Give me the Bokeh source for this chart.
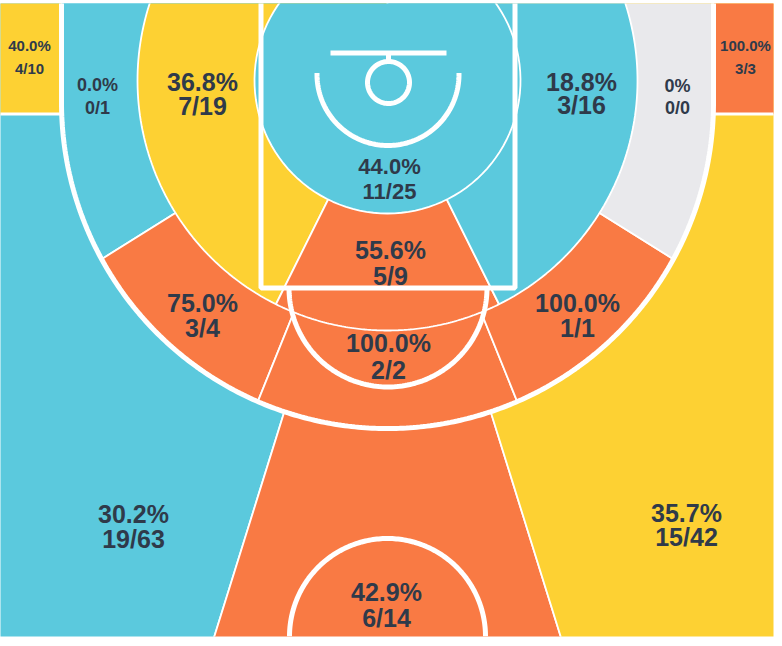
import numpy as np
from bokeh.plotting import figure
from bokeh.models import Range1d, ColumnDataSource
from bokeh.core.properties import value
from bokeh.embed import file_html
from bokeh.resources import INLINE

# ---------------- data ----------------
zones = ["Left Corner 3", "Left Baseline Mid", "Left Short Mid", "Restricted Area",
         "Paint", "Right Short Mid", "Right Baseline Mid", "Right Corner 3",
         "Left Wing Mid", "Top Mid", "Right Wing Mid",
         "Left Wing 3", "Top 3", "Right Wing 3"]
made = [4, 0, 7, 11, 5, 3, 0, 3, 3, 2, 1, 19, 6, 15]
attempts = [10, 1, 19, 25, 9, 16, 0, 3, 4, 2, 1, 63, 14, 42]
levels = ["avg", "cold", "avg", "cold", "hot", "cold", "none", "hot",
          "hot", "hot", "hot", "cold", "hot", "avg"]

level_colors = {"cold": "#5BC9DD", "avg": "#FDD133", "hot": "#F97A44", "none": "#E9E9EC"}
TEXT = "#2F3A4A"
FONT = "Liberation Sans"

# ---------------- court geometry (screen-like units, y down) ----------------
BX, BY = 387.0, 80.0          # zone centre (basket)
R_RA, R_MID = 133.0, 250.0    # zone ring radii
TC_X, TC_Y, TR = 387.0, 102.0, 326.0   # three point arc
X3L, X3R = TC_X - TR, TC_X + TR
CORNER_Y = 113.5
A_IN, A_OUT_C, A_OUT_W, A_3 = 26.5, 22.0, 58.0, 17.3  # sector angles (deg from straight down)

def d(theta):
    t = np.radians(theta)
    return np.sin(t), np.cos(t)

def three_t(theta):
    dx, dy = d(theta)
    b = dy * (BY - TC_Y)
    c = (BY - TC_Y) ** 2 - TR ** 2
    t_arc = -b + np.sqrt(b * b - c)
    if BY + t_arc * dy >= TC_Y:
        return t_arc
    tv = np.inf
    if abs(dx) > 1e-9:
        tv = ((X3L if dx < 0 else X3R) - BX) / dx
    tt = np.inf
    if dy < 0:
        tt = (-30 - BY) / dy
    return min(tv, tt)

def ring_sector(a1, a2, r, closed_circle=False):
    th = np.linspace(a1, a2, 120)
    xs = [BX + r * d(t)[0] for t in th]
    ys = [BY + r * d(t)[1] for t in th]
    if not closed_circle:
        xs = [BX] + xs
        ys = [BY] + ys
    return xs, ys

def three_sector(a1, a2):
    th = np.linspace(a1, a2, 240)
    xs, ys = [BX], [BY]
    for t in th:
        tt = three_t(t)
        dx, dy = d(t)
        xs.append(BX + tt * dx); ys.append(BY + tt * dy)
    return xs, ys

def wedge_out(a1, a2, far_pts):
    xs = [BX, BX + 1000 * d(a1)[0]] + [p[0] for p in far_pts] + [BX + 1000 * d(a2)[0]]
    ys = [BY, BY + 1000 * d(a1)[1]] + [p[1] for p in far_pts] + [BY + 1000 * d(a2)[1]]
    return xs, ys

shapes = {
    "Left Wing 3": wedge_out(-A_3, -180, [(-60, 1100), (-60, -100)]),
    "Top 3": wedge_out(-A_3, A_3, []),
    "Right Wing 3": wedge_out(A_3, 180, [(840, 1100), (840, -100)]),
    "Left Corner 3": ([-20, X3L, X3L, -20], [-20, -20, CORNER_Y, CORNER_Y]),
    "Right Corner 3": ([X3R, 800, 800, X3R], [-20, -20, CORNER_Y, CORNER_Y]),
    "Left Baseline Mid": three_sector(-A_OUT_W, -180),
    "Left Wing Mid": three_sector(-A_OUT_C, -A_OUT_W),
    "Top Mid": three_sector(-A_OUT_C, A_OUT_C),
    "Right Wing Mid": three_sector(A_OUT_C, A_OUT_W),
    "Right Baseline Mid": three_sector(A_OUT_W, 180),
    "Left Short Mid": ring_sector(-A_IN, -180, R_MID),
    "Paint": ring_sector(-A_IN, A_IN, R_MID),
    "Right Short Mid": ring_sector(A_IN, 180, R_MID),
    "Restricted Area": ring_sector(0, 360, R_RA, closed_circle=True),
}

layers = [
    ["Left Wing 3", "Top 3", "Right Wing 3"],
    ["Left Baseline Mid", "Left Wing Mid", "Top Mid", "Right Wing Mid", "Right Baseline Mid"],
    ["Left Short Mid", "Paint", "Right Short Mid"],
    ["Restricted Area"],
]

# label layout: x, y of percentage, y of fraction, font size
label_layout = {
    "Left Corner 3": (29, 45, 68, 15),
    "Left Baseline Mid": (97, 84, 107, 18),
    "Left Short Mid": (202, 81, 105, 25),
    "Restricted Area": (389, 166, 191, 22),
    "Paint": (390, 249, 275, 25),
    "Right Short Mid": (581, 81, 104, 25),
    "Right Baseline Mid": (677, 85, 107, 18),
    "Right Corner 3": (745, 45, 68, 15),
    "Left Wing Mid": (202, 302, 327, 25),
    "Top Mid": (388, 342, 369, 25),
    "Right Wing Mid": (577, 302, 327, 25),
    "Left Wing 3": (133, 513, 538, 25),
    "Top 3": (386, 591, 617, 25),
    "Right Wing 3": (686, 512, 536, 25),
}

# ---------------- figure ----------------
p = figure(width=782, height=646, x_range=Range1d(0, 773), y_range=Range1d(636, 3),
           output_backend="svg", toolbar_location=None,
           x_axis_location=None, y_axis_location=None,
           min_border_left=0, min_border_right=9, min_border_top=3, min_border_bottom=10)
p.xgrid.grid_line_color = None
p.ygrid.grid_line_color = None
p.outline_line_color = None
p.background_fill_color = "white"
p.border_fill_color = "white"

color_of = {z: level_colors[l] for z, l in zip(zones, levels)}

for layer in layers:
    p.patches(xs=[shapes[z][0] for z in layer], ys=[shapes[z][1] for z in layer],
              fill_color=[color_of[z] for z in layer], line_color="white", line_width=1.8)
    if layer[0] == "Left Wing 3":
        corners = ["Left Corner 3", "Right Corner 3"]
        p.patches(xs=[shapes[z][0] for z in corners], ys=[shapes[z][1] for z in corners],
                  fill_color=[color_of[z] for z in corners], line_color=None)
        p.segment(x0=[-20, X3R], y0=[CORNER_Y, CORNER_Y], x1=[X3L, 800], y1=[CORNER_Y, CORNER_Y],
                  line_color="white", line_width=3)

# court lines
W = 5
phi = np.linspace(np.pi, 0, 300)
tx = np.concatenate([[X3L, X3L], TC_X + TR * np.cos(phi), [X3R, X3R]])
ty = np.concatenate([[-20, TC_Y], TC_Y + TR * np.sin(phi), [TC_Y, -20]])
p.line(tx, ty, line_color="white", line_width=W)

PL, PR, PB = 260.5, 514.5, 287.5
p.line([PL, PL, PR, PR], [-20, PB, PB, -20], line_color="white", line_width=W)
ph = np.linspace(0, np.pi, 120)
p.line(387.5 + 99 * np.cos(ph), PB + 99 * np.sin(ph), line_color="white", line_width=W)
ph = np.linspace(-0.02, np.pi + 0.02, 120)
p.line(387.5 + 71 * np.cos(ph), 74 + 71 * np.sin(ph), line_color="white", line_width=W)
p.line([330, 446], [52.5, 52.5], line_color="white", line_width=W)
p.line([388, 388], [54, 62], line_color="white", line_width=W)
ph = np.linspace(0, 2 * np.pi, 120)
p.line(388 + 21 * np.cos(ph), 82 + 21 * np.sin(ph), line_color="white", line_width=W)
ph = np.linspace(np.pi, 2 * np.pi, 160)
p.line(387 + 98 * np.cos(ph), 636 + 98 * np.sin(ph), line_color="white", line_width=W)

# labels
lx, ly, lt, ls = [], [], [], []
for z, m, a in zip(zones, made, attempts):
    pct = f"{100.0 * m / a:.1f}%" if a > 0 else "0%"
    x, yp, yf, s = label_layout[z]
    lx += [x, x]; ly += [yp, yf]; lt += [pct, f"{m}/{a}"]; ls += [f"{s}px", f"{s}px"]
src = ColumnDataSource(dict(x=lx, y=ly, text=lt, size=ls))
p.text(x="x", y="y", text="text", source=src, text_font=value(FONT), text_font_style="bold",
       text_font_size="size", text_color=TEXT, text_align="center", text_baseline="middle")

open("out.html", "w").write(file_html(p, INLINE))
